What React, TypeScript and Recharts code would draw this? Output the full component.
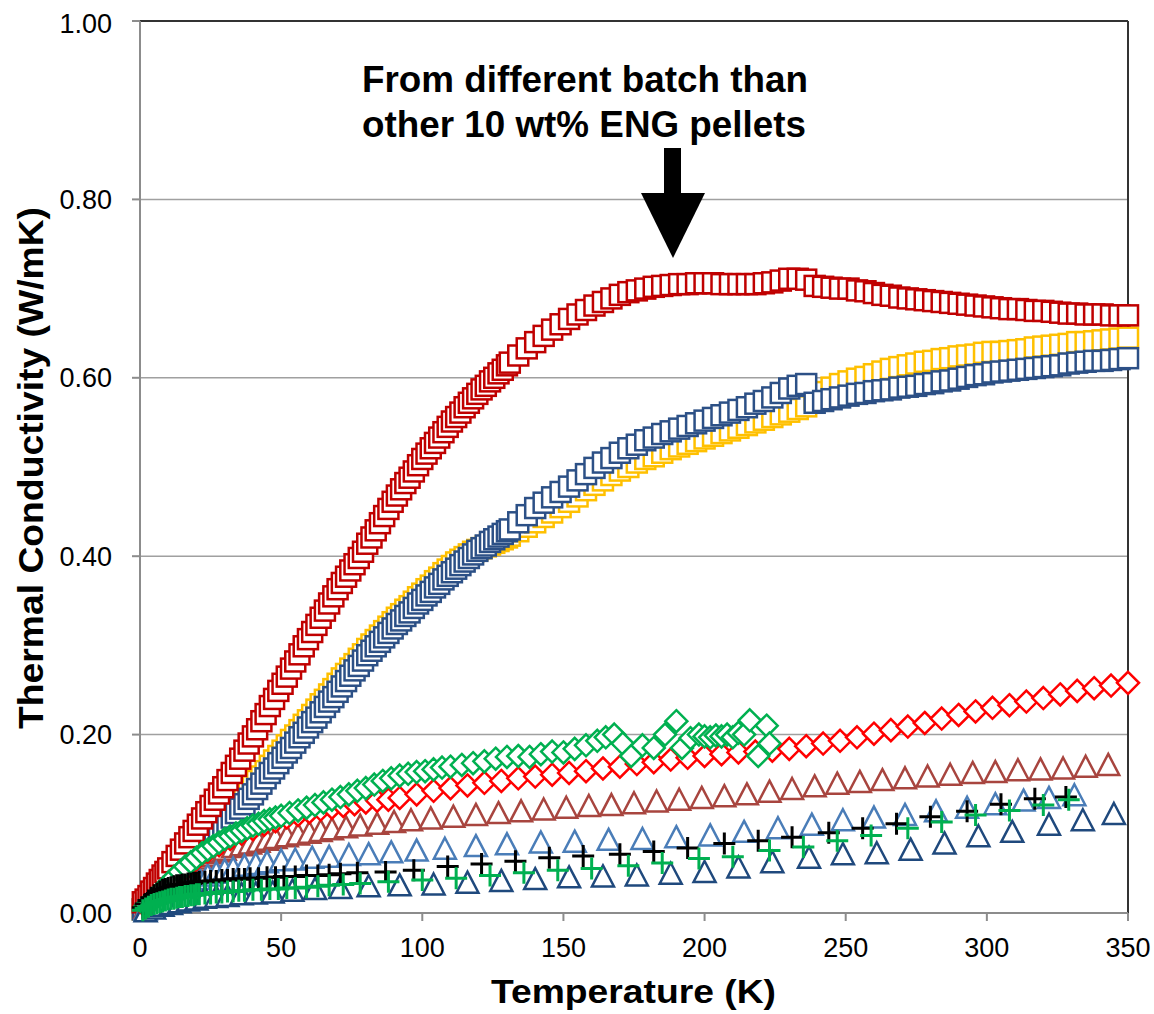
import React from "react";
import { ScatterChart, Scatter, XAxis, YAxis, CartesianGrid, ReferenceLine } from "recharts";

// temperature grid (K) shared by the three square series
const sqTemp = [
  1, 2, 3, 4, 5, 6, 7, 8, 9, 10,
  11.5, 13, 14.5, 16, 17.5, 19, 20.5, 22, 23.5, 25, 26.5, 28, 29.5, 31, 32.5, 34, 35.5, 37, 38.5, 40,
  41.5, 43, 44.5, 46, 47.5, 49, 50.5, 52, 53.5, 55, 56.5, 58, 59.5, 61, 62.5, 64, 65.5, 67, 68.5, 70,
  71.5, 73, 74.5, 76, 77.5, 79, 80.5, 82, 83.5, 85, 86.5, 88, 89.5, 91, 92.5, 94, 95.5, 97, 98.5, 100,
  101.5, 103, 104.5, 106, 107.5, 109, 110.5, 112, 113.5, 115, 116.5, 118, 119.5, 121, 122.5, 124, 125.5, 127, 128.5, 130,
  131, 134, 137, 140, 143, 146, 149, 152, 155, 158, 161, 164, 167, 170, 173, 176, 179, 182, 185, 188,
  191, 194, 197, 200, 203, 206, 209, 212, 215, 218, 221, 224, 227, 230, 233, 236, 239, 242, 245, 248,
  251, 254, 257, 260, 263, 266, 269, 272, 275, 278, 281, 284, 287, 290, 293, 296, 299, 302, 305, 308,
  311, 314, 317, 320, 323, 326, 329, 332, 335, 338, 341, 344, 347, 350,
];
const redSqK = [
  0.012, 0.015, 0.019, 0.024, 0.028, 0.033, 0.037, 0.042, 0.046, 0.05,
  0.057, 0.064, 0.071, 0.078, 0.085, 0.092, 0.099, 0.106, 0.113, 0.12, 0.127, 0.134, 0.141, 0.149, 0.157, 0.165, 0.173, 0.182, 0.19, 0.198,
  0.206, 0.215, 0.223, 0.232, 0.24, 0.249, 0.257, 0.265, 0.274, 0.282, 0.29, 0.299, 0.307, 0.315, 0.323, 0.331, 0.339, 0.347, 0.355, 0.363,
  0.37, 0.377, 0.384, 0.391, 0.398, 0.405, 0.414, 0.421, 0.429, 0.437, 0.445, 0.453, 0.461, 0.468, 0.475, 0.482, 0.488, 0.495, 0.502, 0.509,
  0.515, 0.521, 0.527, 0.533, 0.539, 0.545, 0.551, 0.556, 0.561, 0.567, 0.572, 0.577, 0.582, 0.587, 0.591, 0.596, 0.6, 0.605, 0.609, 0.614,
  0.617, 0.625, 0.633, 0.64, 0.647, 0.654, 0.66, 0.666, 0.671, 0.676, 0.681, 0.685, 0.689, 0.693, 0.696, 0.698, 0.7, 0.702, 0.703, 0.704,
  0.705, 0.705, 0.706, 0.706, 0.706, 0.705, 0.705, 0.705, 0.705, 0.705, 0.706, 0.707, 0.709, 0.711, 0.711, 0.71, 0.703, 0.702, 0.701, 0.7,
  0.7, 0.698, 0.697, 0.695, 0.693, 0.692, 0.69, 0.689, 0.688, 0.687, 0.686, 0.685, 0.684, 0.683, 0.682, 0.681, 0.68, 0.679, 0.678, 0.677,
  0.677, 0.676, 0.675, 0.675, 0.674, 0.673, 0.672, 0.672, 0.671, 0.671, 0.671, 0.67, 0.67, 0.67,
];
const yellowSqK = [
  0.004, 0.008, 0.011, 0.014, 0.017, 0.02, 0.024, 0.027, 0.031, 0.034,
  0.039, 0.044, 0.049, 0.055, 0.06, 0.065, 0.071, 0.077, 0.082, 0.088, 0.094, 0.099, 0.105, 0.11, 0.116, 0.121, 0.126, 0.132, 0.137, 0.142,
  0.148, 0.153, 0.159, 0.165, 0.171, 0.176, 0.182, 0.188, 0.194, 0.199, 0.205, 0.211, 0.216, 0.222, 0.228, 0.234, 0.239, 0.245, 0.251, 0.257,
  0.263, 0.268, 0.274, 0.279, 0.285, 0.29, 0.296, 0.301, 0.306, 0.311, 0.316, 0.321, 0.326, 0.331, 0.335, 0.34, 0.344, 0.349, 0.354, 0.358,
  0.363, 0.367, 0.372, 0.376, 0.381, 0.385, 0.389, 0.393, 0.396, 0.399, 0.402, 0.405, 0.407, 0.409, 0.411, 0.413, 0.415, 0.417, 0.419, 0.421,
  0.423, 0.428, 0.433, 0.438, 0.444, 0.449, 0.455, 0.461, 0.467, 0.474, 0.48, 0.485, 0.491, 0.496, 0.5, 0.505, 0.509, 0.512, 0.516, 0.52,
  0.523, 0.526, 0.529, 0.532, 0.535, 0.538, 0.541, 0.544, 0.547, 0.55, 0.553, 0.556, 0.559, 0.562, 0.565, 0.568, 0.576, 0.584, 0.589, 0.593,
  0.596, 0.599, 0.601, 0.604, 0.607, 0.61, 0.612, 0.614, 0.616, 0.618, 0.619, 0.621, 0.622, 0.624, 0.625, 0.626, 0.628, 0.629, 0.629, 0.63,
  0.631, 0.632, 0.634, 0.635, 0.636, 0.637, 0.638, 0.64, 0.64, 0.641, 0.642, 0.643, 0.644, 0.645,
];
const blueSqK = [
  0.004, 0.006, 0.009, 0.012, 0.015, 0.018, 0.021, 0.023, 0.026, 0.029,
  0.034, 0.039, 0.044, 0.049, 0.054, 0.06, 0.065, 0.07, 0.075, 0.08, 0.086, 0.091, 0.096, 0.101, 0.107, 0.112, 0.117, 0.122, 0.128, 0.133,
  0.139, 0.145, 0.151, 0.157, 0.162, 0.168, 0.174, 0.18, 0.185, 0.191, 0.197, 0.202, 0.208, 0.214, 0.219, 0.225, 0.231, 0.237, 0.242, 0.248,
  0.254, 0.26, 0.266, 0.272, 0.277, 0.283, 0.289, 0.294, 0.299, 0.304, 0.309, 0.314, 0.319, 0.324, 0.328, 0.333, 0.337, 0.342, 0.347, 0.351,
  0.356, 0.36, 0.365, 0.369, 0.374, 0.378, 0.382, 0.386, 0.39, 0.394, 0.398, 0.402, 0.406, 0.409, 0.412, 0.416, 0.419, 0.422, 0.425, 0.428,
  0.43, 0.438, 0.446, 0.454, 0.46, 0.466, 0.472, 0.478, 0.485, 0.492, 0.499, 0.505, 0.51, 0.516, 0.521, 0.525, 0.53, 0.533, 0.537, 0.54,
  0.543, 0.546, 0.549, 0.552, 0.555, 0.558, 0.561, 0.564, 0.567, 0.571, 0.574, 0.578, 0.583, 0.588, 0.591, 0.593, 0.572, 0.574, 0.576, 0.578,
  0.58, 0.582, 0.583, 0.585, 0.586, 0.587, 0.589, 0.59, 0.591, 0.593, 0.594, 0.596, 0.597, 0.599, 0.601, 0.603, 0.604, 0.606, 0.607, 0.608,
  0.609, 0.61, 0.611, 0.612, 0.613, 0.614, 0.616, 0.617, 0.618, 0.619, 0.619, 0.62, 0.621, 0.622,
];

const redDiaT = [
  2, 5, 8, 11, 14, 17, 20, 24, 28, 32, 36, 40, 44, 48, 52, 56, 60, 64, 68, 72, 76, 80, 84, 88, 92,
  98, 104, 110, 116, 122, 128, 134, 140, 146, 152, 158, 164, 170, 176, 182, 188, 194, 200, 206, 212,
  218, 224, 230, 236, 242, 248, 254, 260, 266, 272, 278, 284, 290, 296, 302, 308, 314, 320, 326, 332, 338, 344, 350,
];
const redDiaK = [
  0.007, 0.016, 0.025, 0.035, 0.044, 0.052, 0.06, 0.069, 0.076, 0.083, 0.089, 0.094, 0.099, 0.103, 0.107, 0.11, 0.113, 0.116, 0.118, 0.12, 0.122, 0.124, 0.126, 0.127, 0.129,
  0.133, 0.137, 0.14, 0.143, 0.146, 0.148, 0.151, 0.153, 0.155, 0.157, 0.159, 0.162, 0.164, 0.167, 0.169, 0.172, 0.174, 0.176, 0.178, 0.18,
  0.181, 0.182, 0.184, 0.187, 0.19, 0.193, 0.197, 0.201, 0.205, 0.209, 0.213, 0.218, 0.222, 0.226, 0.23, 0.233, 0.237, 0.241, 0.245, 0.249, 0.252, 0.255, 0.258,
];

const greenDiaT = [
  2, 4, 6, 8, 10, 12, 14, 16, 18, 20, 22, 24, 26, 28, 30, 32, 34, 36, 38, 40, 42, 44, 46, 48, 50,
  53, 56, 59, 62, 65, 68, 71, 74, 77, 80, 83, 86, 89, 92, 95, 98, 101, 104, 107, 110,
  114, 118, 122, 126, 130, 134, 138, 142, 146, 150, 154, 158, 162,
  165, 168, 171, 174, 178, 182, 186, 190, 192, 195, 198,
  200, 202, 204, 206, 208, 210, 212, 214, 216, 219, 222, 223,
];
const greenDiaK = [
  0.008, 0.014, 0.02, 0.027, 0.033, 0.04, 0.046, 0.052, 0.057, 0.062, 0.067, 0.071, 0.075, 0.079, 0.083, 0.086, 0.089, 0.092, 0.095, 0.098, 0.1, 0.103, 0.105, 0.107, 0.109,
  0.112, 0.115, 0.118, 0.121, 0.124, 0.127, 0.13, 0.133, 0.137, 0.14, 0.144, 0.148, 0.151, 0.154, 0.156, 0.158, 0.159, 0.161, 0.163, 0.164,
  0.166, 0.168, 0.17, 0.173, 0.175, 0.176, 0.175, 0.178, 0.181, 0.18, 0.184, 0.188, 0.193,
  0.197, 0.2, 0.19, 0.176, 0.188, 0.185, 0.2, 0.215, 0.185, 0.196, 0.2,
  0.198, 0.197, 0.199, 0.198, 0.2, 0.197, 0.202, 0.2, 0.216, 0.176, 0.21, 0.19,
];

const brownTriT = [
  2, 4, 6, 8, 10, 12, 14, 16, 18, 20, 22, 24, 26, 28, 30, 33, 36, 39, 42, 45, 48, 52, 56, 60, 64, 68, 73, 78, 84, 90, 96,
  103, 111, 119, 127, 135, 143, 151, 159, 167, 175, 183, 191, 199, 207, 215, 223, 231, 239, 247, 255,
  263, 271, 279, 287, 295, 303, 311, 319, 327, 335, 343,
];
const brownTriK = [
  0.006, 0.013, 0.02, 0.027, 0.034, 0.04, 0.045, 0.05, 0.054, 0.058, 0.061, 0.064, 0.067, 0.069, 0.071, 0.074, 0.076, 0.078, 0.08, 0.082, 0.084, 0.086, 0.088, 0.09, 0.092, 0.094, 0.096, 0.098, 0.1, 0.102, 0.104,
  0.106, 0.108, 0.11, 0.112, 0.114, 0.116, 0.118, 0.12, 0.121, 0.123, 0.125, 0.127, 0.129, 0.131, 0.133, 0.136, 0.139, 0.142, 0.145, 0.147,
  0.149, 0.151, 0.153, 0.155, 0.157, 0.158, 0.16, 0.161, 0.162, 0.164, 0.166,
];

const lightTriT = [
  2, 4, 6, 8, 10, 12, 14, 16, 18, 21, 24, 27, 30, 33, 37, 41, 45, 50, 55,
  61, 67, 74, 81, 89, 98, 108, 119, 130, 142, 154, 166, 178, 190, 202, 214, 226, 238,
  249, 260, 271, 282, 293, 303, 313, 322, 331,
];
const lightTriK = [
  0.004, 0.008, 0.012, 0.016, 0.02, 0.024, 0.028, 0.031, 0.034, 0.038, 0.042, 0.045, 0.048, 0.05, 0.053, 0.055, 0.057, 0.059, 0.06,
  0.062, 0.063, 0.065, 0.066, 0.068, 0.07, 0.072, 0.075, 0.077, 0.079, 0.08, 0.082, 0.083, 0.085, 0.087, 0.091, 0.095, 0.099,
  0.104, 0.107, 0.11, 0.114, 0.118, 0.122, 0.126, 0.129, 0.132,
];

const darkTriT = [
  2, 5, 8, 11, 14, 17, 20, 23, 27, 31, 36, 41, 47, 54, 62, 71, 81, 92,
  104, 116, 128, 140, 152, 164, 176, 188, 200,
  212, 224, 237, 249, 261, 273, 285, 297, 309, 322, 334, 345,
];
const darkTriK = [
  0.002, 0.005, 0.008, 0.01, 0.012, 0.014, 0.015, 0.017, 0.018, 0.019, 0.021, 0.022, 0.023, 0.025, 0.027, 0.028, 0.03, 0.031,
  0.032, 0.034, 0.036, 0.038, 0.04, 0.041, 0.042, 0.044, 0.046,
  0.051, 0.057, 0.062, 0.066, 0.067, 0.071, 0.078, 0.086, 0.091, 0.099, 0.104, 0.111,
];

const blackPlusT = [
  1, 2, 3, 4, 5, 6, 7, 8, 9, 10, 11, 12, 13, 14, 15, 16, 17, 18, 19, 20, 21,
  23, 25, 27, 29, 31, 33, 35, 37, 39, 42, 45, 48, 51, 55, 59, 63, 67, 71, 77, 87, 97,
  109, 121, 133, 145, 157, 170, 182, 194, 207, 219, 231, 244, 256, 268, 280, 293, 305, 317, 328,
];
const blackPlusK = [
  0.006, 0.01, 0.014, 0.017, 0.02, 0.022, 0.024, 0.026, 0.027, 0.028, 0.029, 0.03, 0.031, 0.031, 0.032, 0.032, 0.033, 0.033, 0.034, 0.034, 0.035,
  0.035, 0.036, 0.036, 0.037, 0.037, 0.038, 0.038, 0.038, 0.039, 0.039, 0.04, 0.04, 0.041, 0.041, 0.042, 0.042, 0.043, 0.044, 0.045, 0.046, 0.048,
  0.052, 0.055, 0.058, 0.062, 0.064, 0.066, 0.069, 0.073, 0.078, 0.081, 0.085, 0.09, 0.095, 0.1, 0.108, 0.114, 0.122, 0.128, 0.13,
];

const greenPlusT = [
  1, 2, 3, 4, 5, 6, 7, 8, 9, 10, 11, 12, 13, 14, 15, 16, 17, 18, 19, 20, 21,
  23, 25, 27, 29, 31, 33, 35, 37, 40, 43, 46, 49, 52, 55, 59, 63, 67, 72, 78,
  88, 100, 112, 124, 136, 148, 160, 173, 185, 198, 210, 223, 235, 247, 259, 272, 284, 296, 308, 320, 329,
];
const greenPlusK = [
  0.003, 0.005, 0.007, 0.009, 0.01, 0.011, 0.012, 0.013, 0.014, 0.015, 0.016, 0.016, 0.017, 0.018, 0.018, 0.019, 0.019, 0.02, 0.02, 0.021, 0.021,
  0.022, 0.022, 0.023, 0.023, 0.024, 0.024, 0.025, 0.025, 0.026, 0.026, 0.027, 0.027, 0.028, 0.028, 0.029, 0.03, 0.031, 0.032, 0.033,
  0.035, 0.037, 0.039, 0.042, 0.045, 0.048, 0.05, 0.053, 0.056, 0.061, 0.063, 0.07, 0.074, 0.081, 0.087, 0.095, 0.102, 0.11, 0.115, 0.121, 0.127,
];

const xTicks = [0, 50, 100, 150, 200, 250, 300, 350];
const yTicks = [0, 0.2, 0.4, 0.6, 0.8, 1.0];

const pts = (t: number[], k: number[]) => t.map((v, i) => ({ t: v, k: k[i] }));

const font = "'Liberation Sans', Arial, sans-serif";
const grey = "#8c8c8c";

const square = (c: string) => (p: any) => (
  <rect x={p.cx - 10} y={p.cy - 10} width={20} height={20} fill="#fff" stroke={c} strokeWidth={2.5} />
);
const diamond = (c: string) => (p: any) => (
  <polygon
    points={`${p.cx},${p.cy - 11} ${p.cx + 11},${p.cy} ${p.cx},${p.cy + 11} ${p.cx - 11},${p.cy}`}
    fill="#fff" stroke={c} strokeWidth={2.5}
  />
);
const triangle = (c: string) => (p: any) => (
  <polygon
    points={`${p.cx},${p.cy - 11} ${p.cx + 11},${p.cy + 10} ${p.cx - 11},${p.cy + 10}`}
    fill="#fff" stroke={c} strokeWidth={2.5}
  />
);
const plus = (c: string) => (p: any) => (
  <path d={`M${p.cx - 11},${p.cy}H${p.cx + 11}M${p.cx},${p.cy - 11}V${p.cy + 11}`} stroke={c} strokeWidth={3} fill="none" />
);

export default function App() {
  return (
    <div style={{ position: "fixed", left: 0, top: 0, width: 1154, height: 1014, overflow: "hidden", background: "#fff" }}>
      <div style={{ position: "absolute", left: 8, top: 8, width: 1146, height: 1006 }}>
        <ScatterChart width={1146} height={1006} margin={{ top: 13, right: 26, bottom: 41, left: 60 }}>
          <CartesianGrid horizontal vertical={false} stroke="#a0a0a0" strokeWidth={1.5} />
          <XAxis
            type="number" dataKey="t" domain={[0, 350]} ticks={xTicks} height={60}
            tickSize={8} tickMargin={17}
            axisLine={{ stroke: grey, strokeWidth: 2 }} tickLine={{ stroke: grey, strokeWidth: 2 }}
            tick={{ fill: "#000", fontSize: 27, fontFamily: font }}
          />
          <YAxis
            type="number" dataKey="k" domain={[0, 1]} ticks={yTicks} width={72}
            tickSize={8} tickMargin={20} tickFormatter={(v: number) => v.toFixed(2)}
            axisLine={{ stroke: grey, strokeWidth: 2 }} tickLine={{ stroke: grey, strokeWidth: 2 }}
            tick={{ fill: "#000", fontSize: 27, fontFamily: font }}
          />
          <ReferenceLine y={1} stroke="#333" strokeWidth={2} />
          <ReferenceLine x={350} stroke="#333" strokeWidth={2} />
          <Scatter data={pts(sqTemp, yellowSqK)} shape={square("#FFC000")} isAnimationActive={false} />
          <Scatter data={pts(sqTemp, blueSqK)} shape={square("#2C5086")} isAnimationActive={false} />
          <Scatter data={pts(sqTemp, redSqK)} shape={square("#C00000")} isAnimationActive={false} />
          <Scatter data={pts(brownTriT, brownTriK)} shape={triangle("#A8453F")} isAnimationActive={false} />
          <Scatter data={pts(lightTriT, lightTriK)} shape={triangle("#4A7DB8")} isAnimationActive={false} />
          <Scatter data={pts(darkTriT, darkTriK)} shape={triangle("#1F497D")} isAnimationActive={false} />
          <Scatter data={pts(redDiaT, redDiaK)} shape={diamond("#FF0000")} isAnimationActive={false} />
          <Scatter data={pts(greenDiaT, greenDiaK)} shape={diamond("#00B050")} isAnimationActive={false} />
          <Scatter data={pts(blackPlusT, blackPlusK)} shape={plus("#000000")} isAnimationActive={false} />
          <Scatter data={pts(greenPlusT, greenPlusK)} shape={plus("#00B050")} isAnimationActive={false} />
        </ScatterChart>
        <svg
          width={1146} height={1006}
          style={{ position: "absolute", left: 0, top: 0, pointerEvents: "none" }}
          fontFamily={font} fontWeight="bold" fill="#000"
        >
          <text x={354} y={84} fontSize={36} textLength={446} lengthAdjust="spacingAndGlyphs">From different batch than</text>
          <text x={354} y={129} fontSize={36} textLength={444} lengthAdjust="spacingAndGlyphs">other 10 wt% ENG pellets</text>
          <rect x={656} y={140} width={17} height={46} fill="#000" />
          <polygon points="633,185 697,185 665,250" fill="#000" />
          <text x={483} y={995} fontSize={33} textLength={285} lengthAdjust="spacingAndGlyphs">Temperature (K)</text>
          <text transform="translate(35,721) rotate(-90)" fontSize={35} textLength={522} lengthAdjust="spacingAndGlyphs">
            Thermal Conductivity (W/mK)
          </text>
        </svg>
      </div>
    </div>
  );
}
